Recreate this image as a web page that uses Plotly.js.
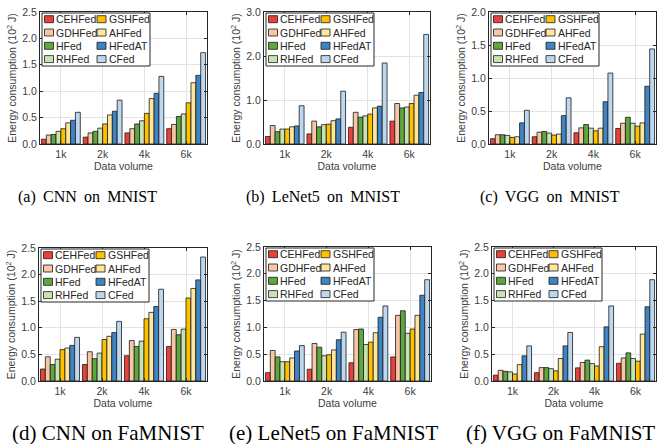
<!DOCTYPE html>
<html>
<head>
<meta charset="utf-8">
<script src="https://cdn.plot.ly/plotly-3.0.1.min.js"></script>
<style>
  html, body { margin: 0; padding: 0; background: #fff; }
  body { width: 669px; height: 444px; position: relative; overflow: hidden; }
  .panel { position: absolute; }
</style>
</head>
<body>
<div id="pa" class="panel"></div>
<div id="pb" class="panel"></div>
<div id="pc" class="panel"></div>
<div id="pd" class="panel"></div>
<div id="pe" class="panel"></div>
<div id="pf" class="panel"></div>
<script>
// Categories, methods and colours
const volumes = ['1k', '2k', '4k', '6k'];
const methods = ['CEHFed', 'GDHFed', 'HFed', 'RHFed', 'GSHFed', 'AHFed', 'HFedAT', 'CFed'];
const colors = ['#e8413c', '#f7c6a5', '#5ea63f', '#c8e3b3', '#ffc000', '#ffe699', '#3f85c6', '#bdd7ee'];

// Energy consumption (10^2 J); one row per method, one column per data volume
const cnnMnist = [
  [0.09, 0.13, 0.21, 0.29],
  [0.17, 0.21, 0.29, 0.37],
  [0.18, 0.24, 0.38, 0.52],
  [0.24, 0.30, 0.44, 0.57],
  [0.29, 0.38, 0.58, 0.78],
  [0.40, 0.55, 0.86, 1.16],
  [0.45, 0.62, 0.96, 1.30],
  [0.60, 0.83, 1.28, 1.73]
];
const lenetMnist = [
  [0.17, 0.23, 0.38, 0.52],
  [0.42, 0.52, 0.72, 0.92],
  [0.28, 0.39, 0.61, 0.82],
  [0.34, 0.44, 0.64, 0.84],
  [0.34, 0.45, 0.68, 0.92],
  [0.39, 0.53, 0.82, 1.11],
  [0.41, 0.57, 0.86, 1.17],
  [0.87, 1.20, 1.84, 2.49]
];
const vggMnist = [
  [0.08, 0.11, 0.17, 0.235],
  [0.14, 0.18, 0.245, 0.315],
  [0.14, 0.19, 0.295, 0.405],
  [0.13, 0.165, 0.24, 0.315],
  [0.10, 0.135, 0.20, 0.27],
  [0.11, 0.15, 0.24, 0.32],
  [0.32, 0.43, 0.64, 0.875],
  [0.51, 0.70, 1.075, 1.44]
];
const cnnFamnist = [
  [0.225, 0.31, 0.475, 0.65],
  [0.455, 0.55, 0.76, 0.97],
  [0.31, 0.42, 0.65, 0.87],
  [0.41, 0.525, 0.75, 0.975],
  [0.59, 0.78, 1.17, 1.56],
  [0.62, 0.84, 1.29, 1.74],
  [0.67, 0.91, 1.40, 1.90],
  [0.82, 1.12, 1.725, 2.33]
];
const lenetFamnist = [
  [0.155, 0.22, 0.34, 0.45],
  [0.57, 0.70, 0.96, 1.225],
  [0.45, 0.63, 0.97, 1.31],
  [0.36, 0.47, 0.68, 0.89],
  [0.36, 0.49, 0.725, 0.97],
  [0.43, 0.58, 0.90, 1.225],
  [0.56, 0.77, 1.19, 1.60],
  [0.66, 0.91, 1.40, 1.89]
];
const vggFamnist = [
  [0.11, 0.155, 0.245, 0.33],
  [0.20, 0.25, 0.345, 0.43],
  [0.18, 0.25, 0.39, 0.525],
  [0.17, 0.23, 0.325, 0.42],
  [0.13, 0.19, 0.28, 0.37],
  [0.305, 0.42, 0.64, 0.875],
  [0.47, 0.655, 1.01, 1.385],
  [0.655, 0.905, 1.40, 1.89]
];

const captions = [
  '(a)&#8201; CNN&#8201; on&#8201; MNIST', '(b)&#8201; LeNet5&#8201; on&#8201; MNIST', '(c)&#8201; VGG&#8201; on&#8201; MNIST',
  '(d) CNN on FaMNIST', '(e) LeNet5 on FaMNIST', '(f) VGG on FaMNIST'
];

// Page geometry of each panel: div box, axes box (page px), y range / step, caption centre
const panels = [
  { id: 'pa', data: cnnMnist,     box: [0, 0, 223, 222],     ax: [40, 12, 207, 144],   ymax: 2.5, dtick: 0.5, cap: [87, 197],  capSize: 16 },
  { id: 'pb', data: lenetMnist,   box: [223, 0, 223, 222],   ax: [264, 12, 430, 144],  ymax: 3.0, dtick: 1.0, cap: [323, 197], capSize: 16 },
  { id: 'pc', data: vggMnist,     box: [446, 0, 223, 222],   ax: [489, 12, 656, 144],  ymax: 2.0, dtick: 0.5, cap: [550, 197], capSize: 16 },
  { id: 'pd', data: cnnFamnist,   box: [0, 222, 223, 222],   ax: [39, 248, 207, 381],  ymax: 2.5, dtick: 0.5, cap: [108, 433], capSize: 21 },
  { id: 'pe', data: lenetFamnist, box: [223, 222, 223, 222], ax: [264, 247, 431, 381], ymax: 2.5, dtick: 0.5, cap: [334, 433], capSize: 21 },
  { id: 'pf', data: vggFamnist,   box: [446, 222, 223, 222], ax: [492, 247, 656, 381], ymax: 2.5, dtick: 0.5, cap: [560, 433], capSize: 21 }
];

const sans = '"Liberation Sans", Arial, Helvetica, sans-serif';
const serif = '"Liberation Serif", "Times New Roman", Times, serif';
const axisColor = '#262626';
const labelColor = '#404040';

panels.forEach((p, k) => {
  const [bx, by, bw, bh] = p.box;
  const [ax0, ay0, ax1, ay1] = p.ax;
  const pw = ax1 - ax0, ph = ay1 - ay0;
  const el = document.getElementById(p.id);
  el.style.left = bx + 'px';
  el.style.top = by + 'px';
  el.style.width = bw + 'px';
  el.style.height = bh + 'px';

  const traces = methods.map((m, i) => ({
    type: 'bar',
    name: m,
    x: volumes,
    y: p.data[i],
    marker: { color: colors[i], line: { color: '#1a1a1a', width: 0.8 } },
    showlegend: false
  }));

  // In-axes legend: two columns of four entries
  const px2x = v => v / pw;
  const px2y = v => 1 - v / ph;
  const shapes = [{
    type: 'rect', xref: 'paper', yref: 'paper', layer: 'above',
    x0: px2x(2), x1: px2x(110), y0: px2y(54), y1: px2y(1),
    fillcolor: '#ffffff', line: { color: '#262626', width: 1 }
  }];
  const annotations = [];
  methods.forEach((m, i) => {
    const col = Math.floor(i / 4), row = i % 4;
    const sx = 4.5 + col * 52.5;
    const cy = 7.2 + row * 13.3;
    shapes.push({
      type: 'rect', xref: 'paper', yref: 'paper', layer: 'above',
      x0: px2x(sx), x1: px2x(sx + 9), y0: px2y(cy + 3.5), y1: px2y(cy - 3.5),
      fillcolor: colors[i], line: { color: '#1a1a1a', width: 0.8 }
    });
    annotations.push({
      xref: 'paper', yref: 'paper', x: px2x(sx + 9.5), y: px2y(cy),
      xanchor: 'left', yanchor: 'middle', showarrow: false, text: m,
      font: { family: sans, size: 10.5, color: '#262626' }
    });
  });
  annotations.push({
    xref: 'paper', yref: 'paper',
    x: (p.cap[0] - ax0) / pw, y: px2y(p.cap[1] - ay0),
    xanchor: 'center', yanchor: 'middle', showarrow: false,
    text: captions[k], font: { family: serif, size: p.capSize, color: '#000' }
  });

  const layout = {
    width: bw, height: bh,
    margin: { l: ax0 - bx, r: bx + bw - ax1, t: ay0 - by, b: by + bh - ay1, pad: 0 },
    paper_bgcolor: 'rgba(0,0,0,0)', plot_bgcolor: '#fff',
    barmode: 'group', bargap: 0.07, bargroupgap: 0,
    font: { family: sans, size: 10.5, color: labelColor },
    showlegend: false,
    xaxis: {
      type: 'category', range: [-0.5, 3.5], automargin: false,
      showline: true, linecolor: axisColor, linewidth: 1, mirror: 'ticks',
      ticks: 'inside', ticklen: 3, tickcolor: axisColor,
      showgrid: true, gridcolor: '#e3e3e3', gridwidth: 1,
      tickfont: { family: sans, size: 10.5, color: labelColor },
      title: { text: 'Data volume', standoff: 4, font: { family: sans, size: 10.5, color: labelColor } }
    },
    yaxis: {
      range: [0, p.ymax], dtick: p.dtick, tick0: 0, tickformat: '.1f', automargin: false,
      showline: true, linecolor: axisColor, linewidth: 1, mirror: 'ticks',
      ticks: 'inside', ticklen: 3, tickcolor: axisColor,
      showgrid: true, gridcolor: '#e3e3e3', gridwidth: 1, zeroline: false,
      tickfont: { family: sans, size: 10.5, color: labelColor },
      title: { text: 'Energy consumption (10<sup>2</sup> J)', standoff: 3, font: { family: sans, size: 10.5, color: labelColor } }
    },
    shapes: shapes,
    annotations: annotations
  };

  Plotly.newPlot(el, traces, layout, { staticPlot: true, displayModeBar: false });
});
</script>
</body>
</html>
